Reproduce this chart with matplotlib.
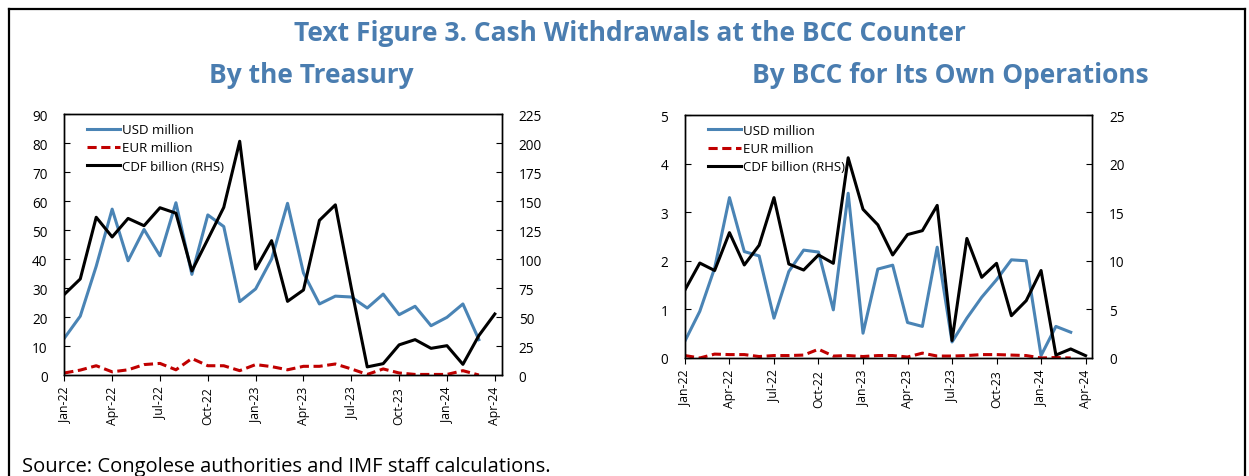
import numpy as np
import matplotlib
matplotlib.use("Agg")
import matplotlib.pyplot as plt
from matplotlib.lines import Line2D

plt.rcParams['font.family'] = ['Open Sans', 'DejaVu Sans']

# month labels, Jan-22 .. Apr-24
months = ["Jan", "Feb", "Mar", "Apr", "May", "Jun", "Jul", "Aug", "Sep", "Oct", "Nov", "Dec"]
periods = [m + "-" + y for y in ["22", "23", "24"] for m in months][:28]
tick_idx = list(range(0, 28, 3))

# By the Treasury
tr_usd = [12.7, 20.3, 37.5, 57.2, 39.4, 50.2, 41.1, 59.4, 34.7, 55.2, 51.2, 25.3, 29.7, 40.0,
          59.2, 35.2, 24.5, 27.2, 26.9, 23.1, 27.9, 20.8, 23.7, 17.0, 19.9, 24.5, 12.2]
tr_eur = [0.7, 1.7, 3.2, 1.1, 1.8, 3.6, 4.0, 1.8, 5.7, 3.2, 3.2, 1.5, 3.6, 2.9,
          1.8, 3.0, 3.0, 3.8, 2.1, 0.2, 2.1, 0.7, 0.2, 0.2, 0.2, 1.5, 0.0]
tr_cdf = [69.5, 82.8, 136, 119, 135, 128.7, 144.2, 139.5, 89.7, 117, 144.5, 201.5, 91.4, 115.8,
          63.5, 73.3, 133.3, 146.7, 75, 7, 9.8, 26, 30.5, 23, 25.3, 9.2, 34, 52.6]

# By BCC for its own operations
bcc_usd = [0.35, 0.96, 1.85, 3.3, 2.19, 2.1, 0.82, 1.78, 2.22, 2.18, 0.99, 3.39, 0.51, 1.83,
           1.91, 0.73, 0.65, 2.28, 0.33, 0.82, 1.25, 1.61, 2.02, 2.0, 0.05, 0.65, 0.53]
bcc_eur = [0.05, 0.0, 0.08, 0.07, 0.07, 0.03, 0.05, 0.05, 0.06, 0.18, 0.04, 0.05, 0.03, 0.05,
           0.05, 0.02, 0.1, 0.04, 0.04, 0.05, 0.07, 0.07, 0.06, 0.05, 0.0, 0.01, 0.0]
bcc_cdf = [7.0, 9.77, 9.0, 12.9, 9.57, 11.6, 16.5, 9.67, 9.05, 10.6, 9.74, 20.6, 15.3, 13.7,
           10.6, 12.7, 13.1, 15.7, 1.8, 12.3, 8.3, 9.74, 4.35, 5.9, 9.0, 0.3, 0.93, 0.24]

BLUE = "#4A84B5"
RED = "#C00000"
TITLE = "#4A7DB0"

fig = plt.figure(figsize=(12.49, 4.77), dpi=100)


def panel(rect, usd, eur, cdf, lmax, lstep, rmax, rstep, leg_anchor):
    ax = fig.add_axes(rect)
    ax2 = ax.twinx()
    h1, = ax.plot(range(len(usd)), usd, color=BLUE, lw=2.2, label="USD million")
    h2, = ax.plot(range(len(eur)), eur, color=RED, lw=2.2, ls=(0, (3, 1.5)), label="EUR million")
    h3, = ax2.plot(range(len(cdf)), cdf, color="black", lw=2.2, label="CDF billion (RHS)")
    ax.set_xlim(0, 27.45)
    ax.set_ylim(0, lmax)
    ax2.set_ylim(0, rmax)
    ax.set_yticks(np.arange(0, lmax + 0.001, lstep))
    ax2.set_yticks(np.arange(0, rmax + 0.001, rstep))
    ax.set_xticks(tick_idx)
    ax.set_xticklabels([periods[i] for i in tick_idx], rotation=90, fontsize=8.8)
    ax.tick_params(axis='x', direction='out', length=4, pad=4)
    ax.tick_params(axis='y', direction='in', length=4, labelsize=9.8, pad=12)
    ax2.tick_params(axis='y', direction='in', length=4, labelsize=9.8, pad=12)
    for a in (ax, ax2):
        for s in a.spines.values():
            s.set_linewidth(1.0)
    ax.legend(handles=[h1, h2, h3], loc='upper left', bbox_to_anchor=leg_anchor,
              frameon=False, fontsize=9.5, handlelength=2.5, handletextpad=0.15,
              labelspacing=0.4, borderaxespad=0)
    return ax


panel([0.0515, 0.2117, 0.3504, 0.5472], tr_usd, tr_eur, tr_cdf, 90, 10, 225, 25, (0.04, 0.985))
panel([0.5484, 0.2474, 0.3261, 0.5094], bcc_usd, bcc_eur, bcc_cdf, 5, 1, 25, 5, (0.043, 0.985))

fig.text(0.504, 0.93, "Text Figure 3. Cash Withdrawals at the BCC Counter", ha='center', va='center',
         fontsize=19, fontweight='bold', color=TITLE)
fig.text(0.249, 0.842, "By the Treasury", ha='center', va='center',
         fontsize=19, fontweight='bold', color=TITLE)
fig.text(0.761, 0.842, "By BCC for Its Own Operations", ha='center', va='center',
         fontsize=19, fontweight='bold', color=TITLE)
fig.text(0.018, 0.022, "Source: Congolese authorities and IMF staff calculations.",
         ha='left', va='center', fontsize=14.5)

# outer frame
fig.add_artist(Line2D([0.007, 0.007], [0, 0.98], transform=fig.transFigure, color='black', lw=1.6))
fig.add_artist(Line2D([0.007, 0.997], [0.98, 0.98], transform=fig.transFigure, color='black', lw=1.6))
fig.add_artist(Line2D([0.997, 0.997], [0, 0.98], transform=fig.transFigure, color='black', lw=1.6))

fig.savefig("out.png", dpi=100)
